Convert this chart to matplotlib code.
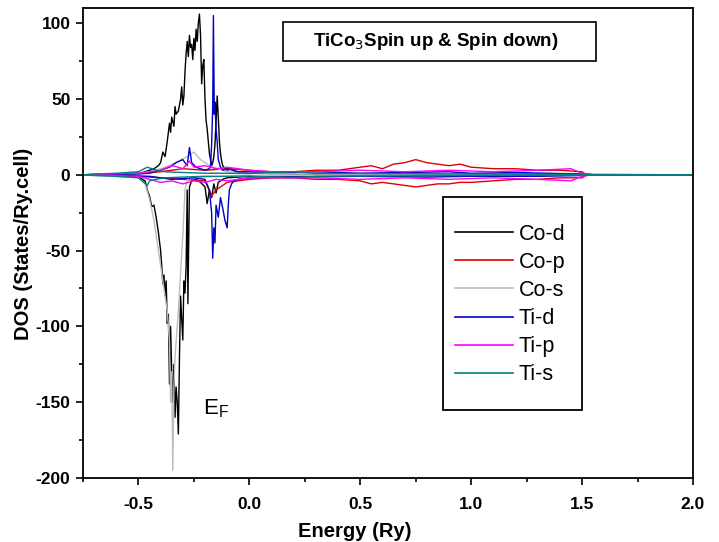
#!/usr/bin/env python3
"""
Script which draws the spin-resolved partial DOS of TiCo3
"""

import matplotlib
matplotlib.use("Agg")
import matplotlib.pyplot as plt
from matplotlib.patches import Rectangle
from matplotlib.ticker import MultipleLocator

# ---- data (energy in Ry, DOS in states/Ry.cell) ----
E_COD_UP = [-0.75, -0.55, -0.48, -0.45, -0.43, -0.41, -0.40, -0.39, -0.38, -0.37,
            -0.36, -0.355, -0.35, -0.34, -0.335, -0.33, -0.32, -0.31, -0.305, -0.30,
            -0.295, -0.29, -0.285, -0.28, -0.275, -0.27, -0.265, -0.26, -0.255, -0.25,
            -0.245, -0.24, -0.235, -0.23, -0.225, -0.22, -0.215, -0.21, -0.205, -0.20,
            -0.195, -0.19, -0.185, -0.18, -0.175, -0.17, -0.165, -0.16, -0.155, -0.15,
            -0.145, -0.14, -0.135, -0.13, -0.125, -0.12, -0.11, -0.10, -0.08, -0.06,
            -0.03, 0.0, 0.1, 0.3, 0.5, 0.8, 1.0, 1.3, 1.5, 1.55, 2.0]
DOS_COD_UP = [0, 0.5, 1.5, 3, 4, 6, 8, 15, 12, 22,
              34, 28, 38, 32, 45, 40, 42, 50, 58, 46,
              52, 68, 80, 88, 78, 92, 84, 86, 76, 90,
              82, 96, 88, 100, 106, 92, 60, 72, 76, 50,
              36, 30, 22, 14, 10, 6, 8, 12, 20, 35,
              52, 38, 22, 14, 9, 6, 4, 3, 4, 2,
              1.5, 1, 0.8, 0.6, 0.8, 0.6, 0.5, 0.4, 0.3, 0, 0]

E_COD_DN = [-0.75, -0.55, -0.50, -0.47, -0.46, -0.45, -0.44, -0.43, -0.42, -0.41,
            -0.40, -0.395, -0.39, -0.385, -0.38, -0.375, -0.37, -0.365, -0.36, -0.355,
            -0.35, -0.345, -0.34, -0.335, -0.33, -0.325, -0.32, -0.315, -0.31, -0.305,
            -0.30, -0.295, -0.29, -0.285, -0.28, -0.277, -0.27, -0.26, -0.24, -0.22,
            -0.20, -0.19, -0.18, -0.17, -0.16, -0.15, -0.14, -0.12, -0.10, -0.05,
            0.0, 0.2, 0.5, 1.0, 1.5, 1.55, 2.0]
DOS_COD_DN = [0, -0.5, -1.5, -4, -10, -14, -21, -20, -28, -38,
              -50, -60, -72, -66, -80, -70, -98, -92, -138, -100,
              -130, -150, -125, -160, -140, -150, -171, -120, -80, -95,
              -109, -70, -78, -60, -10, -85, -8, -4, -3, -5,
              -8, -19, -10, -15, -6, -12, -5, -3, -2, -1.5,
              -1, -0.8, -0.6, -0.5, -0.3, 0, 0]

E_COP_UP = [-0.75, -0.6, -0.5, -0.4, -0.3, -0.2, -0.1, 0.0, 0.1, 0.2,
            0.3, 0.4, 0.5, 0.55, 0.6, 0.65, 0.7, 0.75, 0.8, 0.85,
            0.9, 0.95, 1.0, 1.1, 1.2, 1.3, 1.4, 1.5, 1.52, 2.0]
DOS_COP_UP = [0, 0.5, 1, 2, 4, 3, 4, 3, 2, 2,
              3, 3, 5, 6, 4, 7, 8, 10, 8, 7,
              6, 7, 5, 4, 4, 3, 3, 2, 0, 0]

E_COP_DN = [-0.75, -0.6, -0.5, -0.4, -0.3, -0.2, -0.17, -0.15, -0.1, 0.0,
            0.1, 0.2, 0.3, 0.4, 0.5, 0.55, 0.6, 0.65, 0.7, 0.75,
            0.8, 0.85, 0.9, 0.95, 1.0, 1.1, 1.2, 1.3, 1.4, 1.5, 1.52, 2.0]
DOS_COP_DN = [0, -0.5, -1, -2, -3, -4, -14, -10, -5, -3,
              -2, -2, -3, -3, -4, -6, -5, -6, -7, -8,
              -7, -6, -6, -5, -5, -4, -3, -3, -2, -2, 0, 0]

E_COS_UP = [-0.75, -0.50, -0.45, -0.40, -0.36, -0.32, -0.28, -0.25, -0.22, -0.18,
            -0.14, -0.10, 0.0, 0.5, 1.0, 1.5, 2.0]
DOS_COS_UP = [0, 1, 2, 4, 6, 9, 12, 15, 10, 6,
              4, 2, 1, 0.5, 0.5, 0.2, 0]

E_COS_DN = [-0.75, -0.50, -0.47, -0.45, -0.43, -0.41, -0.39, -0.37, -0.36, -0.355,
            -0.35, -0.345, -0.34, -0.335, -0.32, -0.30, -0.29, -0.28, -0.25, -0.20,
            -0.10, 0.0, 0.5, 1.0, 1.5, 2.0]
DOS_COS_DN = [0, -2, -6, -16, -30, -50, -70, -90, -110, -150,
              -130, -195, -140, -120, -90, -40, -10, -3, -2, -1.5,
              -1, -0.5, -0.5, -0.3, -0.2, 0]

E_TID_UP = [-0.75, -0.50, -0.45, -0.40, -0.36, -0.33, -0.30, -0.28, -0.27, -0.26,
            -0.24, -0.22, -0.20, -0.18, -0.175, -0.17, -0.165, -0.162, -0.158, -0.155,
            -0.15, -0.145, -0.14, -0.13, -0.12, -0.10, -0.05, 0.0, 0.1, 0.2,
            0.3, 0.5, 0.7, 0.9, 1.0, 1.2, 1.5, 1.55, 2.0]
DOS_TID_UP = [0, 0.5, 1, 3, 5, 8, 10, 6, 18, 8,
              5, 4, 3, 4, 6, 20, 45, 105, 40, 48,
              30, 22, 10, 5, 3, 4, 2, 2, 1.5, 1.5,
              2, 1, 1.5, 2, 1, 1.5, 0.5, 0, 0]

E_TID_DN = [-0.75, -0.45, -0.35, -0.25, -0.20, -0.18, -0.17, -0.165, -0.16, -0.155,
            -0.15, -0.14, -0.13, -0.12, -0.11, -0.10, -0.095, -0.09, -0.08, -0.07,
            -0.05, 0.0, 0.2, 0.5, 0.8, 1.0, 1.3, 1.5, 1.55, 2.0]
DOS_TID_DN = [0, -1, -3, -2, -3, -10, -25, -55, -35, -45,
              -20, -28, -15, -22, -30, -35, -20, -10, -6, -4,
              -3, -2, -1.5, -1, -1.5, -1, -1, -0.5, 0, 0]

E_TIP_UP = [-0.75, -0.5, -0.45, -0.4, -0.35, -0.32, -0.3, -0.27, -0.25, -0.2,
            -0.15, -0.1, -0.05, 0.0, 0.1, 0.2, 0.3, 0.5, 0.7, 0.9,
            1.1, 1.3, 1.45, 1.5, 1.55, 2.0]
DOS_TIP_UP = [0, 1, 2, 3, 6, 5, 4, 9, 5, 6,
              4, 5, 4, 3, 2, 2, 2, 3, 2, 3,
              2, 3, 4, 1, 0, 0]

E_TIP_DN = [-0.75, -0.5, -0.45, -0.4, -0.35, -0.3, -0.25, -0.2, -0.15, -0.1,
            -0.05, 0.0, 0.1, 0.3, 0.5, 0.7, 0.9, 1.1, 1.3, 1.45,
            1.5, 1.55, 2.0]
DOS_TIP_DN = [0, -1, -3, -5, -4, -6, -4, -5, -3, -4,
              -3, -2, -2, -2, -3, -2, -3, -2, -3, -4,
              -1, 0, 0]

E_TIS_UP = [-0.75, -0.7, -0.6, -0.5, -0.46, -0.42, -0.38, -0.3, -0.2, -0.1,
            0.0, 0.1, 0.2, 0.3, 0.5, 1.0, 1.5, 2.0]
DOS_TIS_UP = [0, 0.5, 1, 2, 5, 3, 2, 1.5, 1, 1,
              0.8, 1.5, 2, 1, 0.8, 0.5, 0.3, 0]

E_TIS_DN = [-0.75, -0.7, -0.6, -0.5, -0.46, -0.45, -0.42, -0.38, -0.3, -0.2,
            -0.1, 0.0, 0.1, 0.2, 0.3, 0.5, 1.0, 1.5, 2.0]
DOS_TIS_DN = [0, -0.5, -1, -2, -7, -4, -3, -2, -1.5, -1,
              -1, -0.8, -1.5, -2, -1, -0.8, -0.5, -0.3, 0]

LABELS = ["Co-d", "Co-p", "Co-s", "Ti-d", "Ti-p", "Ti-s"]
COLORS = ["black", "#e00000", "#bdbdbd", "#0000c8", "#ff00ff", "#008080"]


def main():
    plt.rcParams["font.family"] = ["Liberation Sans", "DejaVu Sans"]
    plt.rcParams["axes.unicode_minus"] = False

    series = [
        (E_COD_UP, DOS_COD_UP, E_COD_DN, DOS_COD_DN),
        (E_COP_UP, DOS_COP_UP, E_COP_DN, DOS_COP_DN),
        (E_COS_UP, DOS_COS_UP, E_COS_DN, DOS_COS_DN),
        (E_TID_UP, DOS_TID_UP, E_TID_DN, DOS_TID_DN),
        (E_TIP_UP, DOS_TIP_UP, E_TIP_DN, DOS_TIP_DN),
        (E_TIS_UP, DOS_TIS_UP, E_TIS_DN, DOS_TIS_DN),
    ]

    fig = plt.figure(figsize=(7.19, 5.42), dpi=100)
    ax = fig.add_axes([0.1154, 0.1181, 0.8484, 0.8671])

    for (e_up, d_up, e_dn, d_dn), label, color in zip(series, LABELS, COLORS):
        ax.plot(e_up, d_up, color=color, lw=1.0, label=label)
        ax.plot(e_dn, d_dn, color=color, lw=1.0)

    ax.set_xlim(-0.75, 2.0)
    ax.set_ylim(-200, 110)
    ax.xaxis.set_major_locator(MultipleLocator(0.5))
    ax.xaxis.set_minor_locator(MultipleLocator(0.25))
    ax.yaxis.set_major_locator(MultipleLocator(50))
    ax.yaxis.set_minor_locator(MultipleLocator(25))
    ax.tick_params(which="both", direction="out", top=False, right=False,
                   width=1.2, labelsize=12.5)
    ax.tick_params(which="major", length=5, pad=4)
    ax.tick_params(which="minor", length=3)
    ax.tick_params(axis="x", which="major", pad=9)
    for lbl in ax.get_xticklabels() + ax.get_yticklabels():
        lbl.set_fontweight("bold")
    for spine in ax.spines.values():
        spine.set_linewidth(1.3)

    ax.set_xlabel("Energy (Ry)", fontsize=14.5, fontweight="bold")
    ax.xaxis.set_label_coords(0.446, -0.093)
    ax.set_ylabel("DOS (States/Ry.cell)", fontsize=14.5, fontweight="bold")
    ax.yaxis.set_label_coords(-0.082, 0.498)

    # title box
    ax.add_patch(Rectangle((0.328, 0.887), 0.513, 0.083, transform=ax.transAxes,
                           fill=False, edgecolor="black", lw=1.2))
    ax.text(0.579, 0.929, r"TiCo$_3$Spin up & Spin down)", transform=ax.transAxes,
            ha="center", va="center", fontsize=13.5, fontweight="bold")

    ax.text(-0.209, -158, r"E$_\mathregular{F}$", fontsize=16, va="baseline")

    # legend: entries without frame, frame drawn as its own box
    ax.add_patch(Rectangle((0.590, 0.1447), 0.228, 0.453, transform=ax.transAxes,
                           fill=False, edgecolor="black", lw=1.3, zorder=5))
    leg = ax.legend(loc="upper left", bbox_to_anchor=(0.610, 0.541),
                    fontsize=15.5, frameon=False, borderpad=0, labelspacing=0.33,
                    handlelength=2.7, handletextpad=0.25, borderaxespad=0)
    for line in leg.get_lines():
        line.set_linewidth(1.2)

    fig.savefig("out.png", dpi=100)


if __name__ == "__main__":
    main()
